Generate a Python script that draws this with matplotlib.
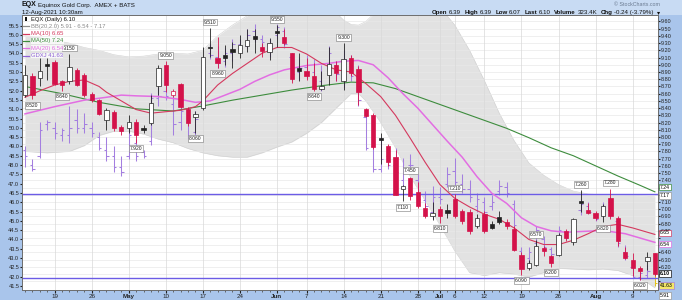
import numpy as np
import pandas as pd
import matplotlib
matplotlib.use('Agg')
import matplotlib.pyplot as plt
from matplotlib.lines import Line2D
from matplotlib.patches import Rectangle

plt.rcParams['font.family'] = ['Liberation Sans', 'DejaVu Sans']

# dias de mercado (13-abr-2021 a 12-ago-2021), sin feriados
dias = pd.bdate_range('2021-04-13', '2021-08-12')
dias = dias[~dias.isin(pd.to_datetime(['2021-05-31', '2021-07-05']))]

### EQX diario (eje derecho)
eqx_open = [8.58, 8.84, 8.82, 9.01, 9.04, 8.77, 8.77, 8.93, 8.86, 8.59,
            8.51, 8.24, 8.35, 8.14, 8.13, 8.21, 8.12, 8.19, 8.70, 9.00,
            8.58, 8.73, 8.39, 8.27, 8.40, 9.25, 9.10, 9.14, 9.22, 9.16,
            9.26, 9.40, 9.25, 9.18, 9.47, 9.39, 9.16, 8.95, 8.92, 8.85,
            8.67, 8.86, 9.00, 8.77, 9.09, 8.94, 8.39, 8.31, 7.99, 7.87,
            7.72, 7.28, 7.43, 7.24, 7.02, 6.90, 7.00, 6.99, 7.14, 6.97,
            6.96, 6.76, 6.93, 6.79, 6.89, 6.82, 6.73, 6.36, 6.19, 6.23,
            6.46, 6.35, 6.37, 6.70, 6.54, 7.11, 6.99, 6.95, 6.90, 7.16,
            6.88, 6.40, 6.29, 6.19, 6.28, 6.39]
eqx_high = [9.00, 8.88, 9.09, 9.09, 9.06, 8.79, 9.15, 8.96, 8.88, 8.62,
            8.53, 8.40, 8.37, 8.17, 8.30, 8.25, 8.16, 8.58, 9.00, 9.05,
            8.66, 8.75, 8.42, 8.36, 9.25, 9.51, 9.39, 9.27, 9.32, 9.41,
            9.50, 9.50, 9.30, 9.37, 9.55, 9.50, 9.17, 9.16, 9.09, 9.02,
            8.91, 9.25, 9.05, 9.30, 9.14, 8.99, 8.40, 8.33, 8.05, 7.90,
            7.82, 7.33, 7.45, 7.38, 7.09, 7.10, 7.05, 7.07, 7.21, 7.00,
            7.00, 6.93, 6.97, 6.83, 6.97, 6.86, 6.77, 6.40, 6.30, 6.57,
            6.49, 6.37, 6.67, 6.72, 6.88, 7.26, 7.08, 6.97, 7.07, 7.28,
            6.90, 6.48, 6.39, 6.21, 6.40, 6.39]
eqx_low = [8.56, 8.52, 8.70, 8.79, 8.72, 8.64, 8.74, 8.70, 8.56, 8.49,
           8.30, 8.10, 8.08, 8.03, 8.05, 7.92, 8.05, 8.16, 8.58, 8.63,
           8.56, 8.40, 8.15, 8.06, 8.38, 9.11, 8.96, 9.00, 8.95, 9.09,
           9.18, 9.16, 9.11, 9.07, 9.25, 9.28, 8.75, 8.77, 8.79, 8.64,
           8.65, 8.72, 8.77, 8.65, 8.84, 8.45, 8.27, 7.83, 7.62, 7.60,
           7.19, 7.11, 7.12, 7.02, 6.88, 6.85, 6.81, 6.88, 6.88, 6.80,
           6.66, 6.74, 6.67, 6.72, 6.79, 6.72, 6.42, 6.09, 6.16, 6.21,
           6.35, 6.20, 6.35, 6.56, 6.51, 6.96, 6.93, 6.85, 6.82, 6.86,
           6.49, 6.31, 6.07, 6.02, 6.16, 6.07]
eqx_close = [8.86, 8.58, 8.91, 8.98, 8.74, 8.72, 8.97, 8.72, 8.58, 8.51,
             8.32, 8.38, 8.12, 8.08, 8.21, 8.03, 8.09, 8.47, 8.95, 8.72,
             8.64, 8.42, 8.19, 8.32, 9.11, 9.23, 9.02, 9.10, 9.18, 9.27,
             9.35, 9.36, 9.19, 9.30, 9.44, 9.30, 8.81, 8.92, 8.85, 8.67,
             8.71, 9.01, 8.88, 9.08, 8.88, 8.63, 8.29, 7.86, 7.96, 7.66,
             7.20, 7.32, 7.18, 7.04, 6.90, 6.95, 6.90, 6.95, 6.90, 6.83,
             6.70, 6.88, 6.70, 6.74, 6.82, 6.76, 6.44, 6.17, 6.26, 6.49,
             6.42, 6.26, 6.64, 6.60, 6.86, 7.08, 6.95, 6.88, 7.04, 6.90,
             6.56, 6.33, 6.19, 6.14, 6.34, 6.10]

### GDXJ (eje izquierdo, barras OHLC)
gdx_open = [48.8, 48.0, 48.5, 50.2, 50.0, 49.6, 49.6, 50.4, 50.0, 50.0,
            49.5, 48.8, 48.5, 47.9, 48.5, 49.2, 48.7, 49.3, 51.6, 52.0,
            51.3, 50.3, 50.3, 49.8, 51.3, 54.0, 53.8, 53.6, 54.0, 54.5,
            54.4, 55.2, 54.8, 54.5, 55.0, 55.2, 53.8, 53.0, 53.3, 53.0,
            52.5, 53.4, 53.4, 52.6, 53.5, 52.8, 50.6, 49.0, 47.8, 48.5,
            48.0, 47.2, 48.0, 47.2, 46.1, 45.5, 46.3, 47.0, 47.7, 47.0,
            46.7, 45.8, 46.0, 45.8, 46.6, 46.8, 45.9, 43.4, 43.0, 43.8,
            44.0, 43.5, 43.7, 44.4, 44.3, 45.6, 45.8, 45.3, 45.3, 46.0,
            45.0, 43.3, 42.5, 42.0, 42.1, 42.2]
gdx_high = [49.0, 48.3, 50.3, 50.4, 50.3, 50.0, 51.2, 51.0, 50.8, 50.3,
            49.8, 49.5, 49.0, 48.5, 50.1, 49.4, 48.8, 51.9, 52.2, 52.5,
            51.7, 51.5, 50.5, 50.9, 53.5, 54.5, 54.4, 54.3, 54.8, 54.8,
            55.3, 55.6, 55.0, 54.8, 55.6, 55.4, 54.0, 53.8, 53.9, 53.7,
            53.4, 54.4, 53.6, 54.2, 53.9, 53.4, 50.9, 49.6, 49.5, 49.1,
            48.9, 48.4, 48.6, 47.5, 46.6, 46.9, 46.8, 47.9, 48.4, 47.5,
            47.2, 46.5, 46.3, 46.4, 47.2, 47.1, 46.1, 43.6, 43.6, 44.7,
            44.2, 43.6, 44.7, 44.5, 45.1, 46.2, 46.0, 45.4, 46.0, 46.3,
            45.2, 43.7, 42.6, 42.4, 42.6, 42.3]
gdx_low = [47.9, 47.7, 48.4, 49.9, 49.4, 49.3, 49.2, 49.7, 49.7, 49.5,
           48.8, 48.2, 47.6, 47.4, 48.3, 48.2, 48.4, 49.1, 51.2, 51.5,
           49.6, 49.9, 49.4, 49.6, 51.1, 53.7, 53.2, 53.3, 53.6, 54.0,
           54.3, 54.6, 54.3, 53.8, 54.8, 54.3, 52.6, 52.6, 52.7, 52.3,
           52.0, 53.2, 52.5, 52.2, 52.5, 51.2, 48.8, 47.6, 47.6, 47.8,
           47.5, 46.8, 47.6, 45.9, 45.6, 45.1, 45.9, 46.8, 46.7, 46.5,
           46.0, 45.5, 45.2, 45.6, 46.4, 46.3, 44.6, 42.6, 42.7, 43.7,
           43.3, 43.0, 43.6, 44.0, 44.2, 45.3, 45.4, 45.0, 45.2, 45.2,
           43.6, 42.9, 41.9, 41.8, 41.9, 41.5]
gdx_close = [48.5, 47.8, 49.9, 50.3, 49.7, 49.9, 50.0, 50.0, 50.2, 49.7,
             48.9, 48.5, 47.9, 47.6, 49.6, 48.5, 48.5, 51.6, 51.7, 51.7,
             50.2, 50.9, 49.5, 50.5, 53.3, 53.9, 53.5, 54.0, 54.5, 54.3,
             55.0, 54.9, 54.6, 54.4, 55.4, 54.5, 52.9, 53.2, 53.0, 52.5,
             52.3, 54.0, 52.9, 53.7, 52.8, 51.5, 48.9, 47.8, 48.3, 48.0,
             47.6, 47.8, 48.0, 46.2, 45.8, 46.3, 46.2, 47.5, 47.1, 46.7,
             46.3, 46.2, 45.5, 46.0, 46.9, 46.5, 44.8, 42.9, 43.3, 44.5,
             43.6, 43.2, 44.5, 44.1, 45.0, 45.9, 45.5, 45.1, 45.8, 45.4,
             43.8, 43.1, 42.0, 42.2, 42.3, 41.63]

### Medias moviles
ma10_x = [0, 2, 4, 6, 8, 10, 11, 13, 15, 17, 19, 21, 23, 24, 26, 28, 30, 32, 34, 36,
          38, 40, 42, 44, 46, 48, 50, 52, 54, 56, 58, 60, 62, 64, 66, 68, 70, 72, 74, 76,
          78, 80, 82, 84, 85]
ma10_y = [8.55, 8.64, 8.72, 8.77, 8.79, 8.70, 8.62, 8.50, 8.38, 8.33, 8.35, 8.37, 8.42, 8.50,
          8.72, 8.88, 9.02, 9.16, 9.24, 9.24, 9.15, 9.02, 8.93, 8.90, 8.74, 8.56, 8.30, 7.98,
          7.65, 7.34, 7.15, 7.03, 6.93, 6.86, 6.74, 6.58, 6.51, 6.51, 6.57, 6.66, 6.76, 6.79,
          6.74, 6.68, 6.65]
ma20_x = [0, 4, 8, 11, 13, 15, 18, 21, 23, 25, 27, 29, 31, 33, 35, 38, 41, 43, 45, 47,
          49, 51, 53, 55, 57, 59, 61, 63, 65, 67, 69, 71, 73, 75, 77, 79, 81, 83, 85]
ma20_y = [8.32, 8.42, 8.51, 8.55, 8.58, 8.57, 8.56, 8.52, 8.48, 8.50, 8.58, 8.66, 8.77, 8.86,
          8.93, 8.99, 9.02, 9.05, 9.06, 9.00, 8.82, 8.60, 8.40, 8.17, 7.94, 7.72, 7.45, 7.22,
          7.08, 6.88, 6.76, 6.70, 6.68, 6.69, 6.70, 6.69, 6.66, 6.60, 6.54]
ma50_x = [0, 5, 10, 15, 20, 24, 28, 32, 36, 40, 44, 47, 50, 53, 56, 59, 62, 65, 68, 71,
          74, 77, 80, 83, 85]
ma50_y = [8.70, 8.60, 8.48, 8.39, 8.36, 8.43, 8.51, 8.58, 8.65, 8.71, 8.76, 8.75, 8.67, 8.56,
          8.45, 8.34, 8.23, 8.12, 7.99, 7.85, 7.74, 7.60, 7.46, 7.33, 7.24]

### Bandas de Bollinger (20, 2.0)
bb_x = [0, 3, 6, 8, 10, 12, 14, 16, 18, 20, 22, 24, 26, 28, 30, 32, 34, 36, 38, 40,
        42, 43, 44, 45, 46, 47, 48, 50, 52, 54, 56, 58, 60, 62, 64, 66, 68, 70, 72, 74,
        76, 78, 80, 82, 84, 85]
bb_up = [9.40, 9.36, 9.30, 9.24, 9.20, 9.14, 9.11, 9.12, 9.15, 9.16, 9.15, 9.20, 9.40, 9.55,
         9.68, 9.80, 9.85, 9.85, 9.85, 9.82, 9.72, 9.62, 9.56, 9.55, 9.60, 9.70, 9.80, 9.85,
         9.85, 9.85, 9.80, 9.55, 9.20, 8.78, 8.33, 7.95, 7.64, 7.47, 7.34, 7.25, 7.21, 7.20,
         7.20, 7.19, 7.18, 7.17]
bb_lo = [7.80, 7.78, 7.80, 7.88, 8.02, 8.08, 8.08, 8.04, 7.97, 7.92, 7.84, 7.78, 7.74, 7.72,
         7.72, 7.78, 7.86, 7.93, 8.05, 8.20, 8.40, 8.50, 8.60, 8.60, 8.50, 8.35, 8.20, 7.85,
         7.45, 7.12, 6.78, 6.42, 6.12, 6.08, 6.12, 6.10, 6.06, 6.12, 6.18, 6.17, 6.16, 6.17,
         6.15, 6.08, 5.98, 5.91]

# lineas horizontales azules y etiquetas de maximos/minimos
niveles = [7.21, 6.04]
lab_idx = [1, 5, 6, 15, 19, 23, 25, 26, 34, 39, 43, 51, 52, 56, 58, 67, 69, 71, 75, 78, 79, 83]
lab_side = ['l', 'l', 'h', 'l', 'h', 'l', 'h', 'l', 'h', 'l', 'h', 'l', 'h', 'l', 'h', 'l',
            'h', 'l', 'h', 'l', 'h', 'l']

tick_fechas = ['2021-04-19', '2021-04-26', '2021-05-03', '2021-05-10', '2021-05-17', '2021-05-24',
               '2021-06-01', '2021-06-07', '2021-06-14', '2021-06-21', '2021-06-28', '2021-07-01',
               '2021-07-06', '2021-07-12', '2021-07-19', '2021-07-26', '2021-08-02', '2021-08-09']
tick_txt = ['19', '26', 'May', '10', '17', '24', 'Jun', '7', '14', '21', '28', 'Jul',
            '6', '12', '19', '26', 'Aug', '9']
# etiquetas del eje derecho tapadas por las cajas de valores
ocultas = [7.30, 7.20, 6.60, 6.50, 6.10, 6.00]

W, H = 682, 300
def fx(v): return v / W
def fy(v): return 1 - v / H

fig = plt.figure(figsize=(6.82, 3.0), dpi=100, facecolor='#a9c5eb')
fig.add_artist(Rectangle((0, fy(15)), 1, 15 / H, transform=fig.transFigure,
                         facecolor='#c8dbf3', edgecolor='none', zorder=0))

axl = fig.add_axes([fx(22), fy(290), fx(658) - fx(22), fy(15) - fy(290)])
ax = axl.twinx()
axl.set_facecolor('white')

x = np.arange(len(dias))
xmin, xmax = -0.4, len(dias) - 0.58

# banda y rejilla (en escala del eje derecho)
axl.fill_between(bb_x, bb_lo, bb_up, transform=ax.transData, color='#e2e2e2', lw=0, zorder=0.2)
axl.plot(bb_x, bb_up, transform=ax.transData, color='#d0d0d0', lw=0.4, zorder=0.25)
axl.plot(bb_x, bb_lo, transform=ax.transData, color='#d0d0d0', lw=0.4, zorder=0.25)
grid_vals = np.round(np.arange(6.0, 9.61, 0.1), 2)
axl.hlines(grid_vals, xmin, xmax, transform=ax.transData, colors='#e9e9e9', lw=0.5, zorder=0.3)

# barras GDXJ
gcol = ['#a47fe0'] * (len(x) - 1) + ['#e4c21a']
axl.vlines(x, gdx_low, gdx_high, colors=gcol, lw=0.75, zorder=2)
axl.hlines(gdx_open, x - 0.32, x, colors=gcol, lw=0.75, zorder=2)
axl.hlines(gdx_close, x, x + 0.32, colors=gcol, lw=0.75, zorder=2)

# lineas horizontales
for nv in niveles:
    ax.axhline(nv, color='#6c5ce6', lw=1.0, zorder=2)

# medias moviles
ax.plot(ma50_x, ma50_y, color='#3d8c3d', lw=0.8, zorder=3)
ax.plot(ma20_x, ma20_y, color='#e26ee2', lw=1.1, zorder=3)
ax.plot(ma10_x, ma10_y, color='#d4395e', lw=0.8, zorder=3)

# velas
o = np.array(eqx_open); h = np.array(eqx_high); lo = np.array(eqx_low); c = np.array(eqx_close)
prev = np.r_[o[:1], c[:-1]]
cols = np.where(c >= prev, '#222222', '#d4124a')
hueca = c > o
ax.vlines(x, lo, h, colors=cols, lw=0.6, zorder=4)
ax.bar(x, np.maximum(np.abs(c - o), 0.012), width=0.58, bottom=np.minimum(o, c),
       color=np.where(hueca, 'white', cols), edgecolor=cols, lw=0.5, zorder=5)

for i, s in zip(lab_idx, lab_side):
    v = eqx_high[i] if s == 'h' else eqx_low[i]
    ax.annotate(f'{v:.3f}', (i, v), xytext=(0, 2.5 if s == 'h' else -2.5), textcoords='offset points',
                ha='center', va='bottom' if s == 'h' else 'top', fontsize=3.6, color='#222',
                bbox=dict(boxstyle='square,pad=0.18', fc='white', ec='#777', lw=0.4), zorder=7)

# ejes
axl.set_xlim(xmin, xmax)
axl.set_ylim(41.28, 56.07)
ax.set_ylim(5.88, 9.69)
izq = np.arange(41.5, 55.51, 0.5)
axl.set_yticks(izq)
axl.set_yticklabels([f'{v:.1f}' for v in izq])
ax.set_yticks(grid_vals)
ax.set_yticklabels(['' if any(abs(v - q) < 0.001 for q in ocultas) else f'{v:.2f}' for v in grid_vals])
pos = dias.get_indexer(pd.to_datetime(tick_fechas))
axl.set_xticks(pos)
axl.set_xticklabels(tick_txt)
for t in axl.get_xticklabels():
    if t.get_text() in ('May', 'Jun', 'Jul', 'Aug'):
        t.set_fontweight('bold')
axl.set_xticks(x, minor=True)
axl.set_axisbelow(True)
axl.grid(axis='x', which='major', color='#d9d9d9', lw=0.5)
axl.tick_params(axis='y', labelsize=4, length=1.5, pad=0.5, colors='#222')
ax.tick_params(axis='y', labelsize=4, length=1.5, pad=0.5, colors='#222')
axl.tick_params(axis='x', which='major', labelsize=4.5, length=2, pad=1, colors='#222')
axl.tick_params(axis='x', which='minor', length=1.2, colors='#555')
for a in (axl, ax):
    for sp in a.spines.values():
        sp.set_color('#6d6d6d'); sp.set_linewidth(0.6)

# cajas de valores a la derecha (desplazadas para no taparse)
cajas = [(7.24, '7.24', '#3d8c3d', 3.4), (7.17, '7.17', '#999999', 1.0),
         (6.65, '6.65', '#d4395e', 1.2), (6.54, '6.54', '#e26ee2', -1.2),
         (6.10, '6.10', '#111111', 0.5), (5.91, '5.91', '#999999', -5.5)]
for v, t, ec, dy in cajas:
    ax.annotate(t, (1.0, v), xycoords=ax.get_yaxis_transform(), xytext=(1.5, dy),
                textcoords='offset points', ha='left', va='center', fontsize=3.7,
                fontweight='bold' if t == '6.10' else 'normal', zorder=8, annotation_clip=False,
                bbox=dict(boxstyle='square,pad=0.12', fc='white', ec=ec, lw=0.5))
axl.annotate('41.63', (1.0, 41.63), xycoords=axl.get_yaxis_transform(), xytext=(1.5, -1.5),
             textcoords='offset points', ha='left', va='center', fontsize=3.7, zorder=8,
             annotation_clip=False,
             bbox=dict(boxstyle='square,pad=0.12', fc='#f3e66a', ec='#a47fe0', lw=0.5))

# encabezado
fig.text(fx(22), fy(5), 'EQX', fontsize=5, fontweight='bold', va='center', color='#111')
fig.text(fx(38), fy(5), 'Equinox Gold Corp.  AMEX + BATS', fontsize=4.4, va='center', color='#111')
fig.text(fx(22), fy(12.5), '12-Aug-2021 10:30am', fontsize=4.4, va='center', color='#111')
fig.text(fx(660), fy(5), '© StockCharts.com', fontsize=3.8, va='center', ha='right', color='#6a7a90')

partes = [('Open', True), ('6.39', False), ('High', True), ('6.39', False), ('Low', True),
          ('6.07', False), ('Last', True), ('6.10', False), ('Volume', True), ('323.4K', False),
          ('Chg', True), ('-0.24 (-3.79%)', False), ('▾', False)]
rend = fig.canvas.get_renderer()
objs = [fig.text(0, fy(12.5), p, fontsize=4.4, fontweight='bold' if b else 'normal',
                 va='center', ha='left', color='#111') for p, b in partes]
anchos = [t.get_window_extent(rend).width for t in objs]
huecos = [1.5 if b else 3.5 for _, b in partes]
xp = 660 - (sum(anchos) + sum(huecos[:-1]))
for t, w, g in zip(objs, anchos, huecos):
    t.set_x(fx(xp)); xp += w + g

# leyenda
ley = [('EQX (Daily) 6.10', '#111111'), ('BB(20,2.0) 5.91 - 6.54 - 7.17', '#8a8a8a'),
       ('MA(10) 6.65', '#d4395e'), ('MA(50) 7.24', '#3d8c3d'), ('MA(20) 6.54', '#e26ee2'),
       ('GDXJ 41.63', '#8e62d6')]
for k, (txt, col) in enumerate(ley):
    yy = 19 + 7.3 * k
    if k == 0:
        fig.add_artist(Rectangle((fx(24.5), fy(yy + 2)), 2.5 / W, 4 / H, transform=fig.transFigure,
                                 facecolor='#111', edgecolor='none'))
    else:
        fig.add_artist(Line2D([fx(23.5), fx(29)], [fy(yy), fy(yy)], transform=fig.transFigure,
                              color=col, lw=0.9))
    fig.text(fx(31), fy(yy), txt, fontsize=4.2, va='center', ha='left', color=col,
             bbox=dict(boxstyle='square,pad=0.05', fc='white', ec='none', alpha=0.75))

fig.savefig('out.png', dpi=100, facecolor=fig.get_facecolor())
